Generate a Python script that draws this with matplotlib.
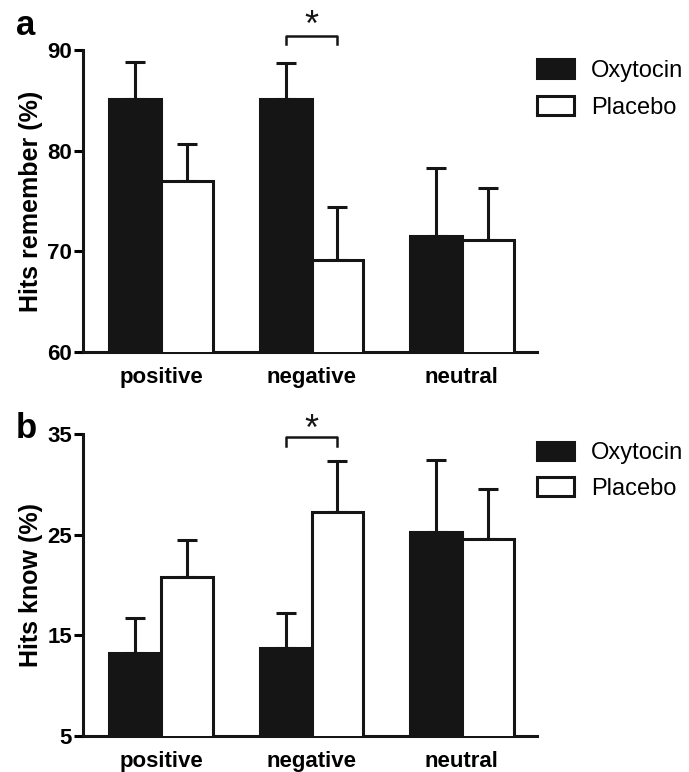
import numpy as np
import matplotlib
matplotlib.use("Agg")
import matplotlib.pyplot as plt

plt.rcParams['font.family'] = ['Liberation Sans', 'DejaVu Sans']

categories = ["positive", "negative", "neutral"]
series_names = ["Oxytocin", "Placebo"]

# Panel a: Hits remember (%)
remember_oxy = [85.1, 85.1, 71.5]
remember_oxy_err = [3.7, 3.6, 6.8]
remember_pla = [77.0, 69.1, 71.1]
remember_pla_err = [3.7, 5.3, 5.2]

# Panel b: Hits know (%)
know_oxy = [13.2, 13.7, 25.3]
know_oxy_err = [3.5, 3.5, 7.1]
know_pla = [20.8, 27.3, 24.6]
know_pla_err = [3.7, 5.0, 4.9]

panels = [
    dict(label="a", ylabel="Hits remember (%)", oxy=remember_oxy, oerr=remember_oxy_err,
         pla=remember_pla, perr=remember_pla_err, ylim=(60, 90), yticks=[60, 70, 80, 90],
         sig_group=1, bracket=(91.4, 90.6), star_y=92.3, leg_y=0.97, leg_sp=0.62),
    dict(label="b", ylabel="Hits know (%)", oxy=know_oxy, oerr=know_oxy_err,
         pla=know_pla, perr=know_pla_err, ylim=(5, 35), yticks=[5, 15, 25, 35],
         sig_group=1, bracket=(34.7, 33.8), star_y=35.4, leg_y=0.975, leg_sp=0.55),
]

W, H = 689, 772
fig = plt.figure(figsize=(W / 100, H / 100), dpi=100)

ax_rects = [
    (83 / W, 1 - 352 / H, (537 - 83) / W, (352 - 50) / H),
    (83 / W, 1 - 736 / H, (537 - 83) / W, (736 - 434) / H),
]
label_pos = [(16 / W, 1 - 35 / H), (16 / W, 1 - 438 / H)]

black = "#151515"
lw = 2.2
w = 0.345
x = np.arange(len(categories))

for p, rect, lpos in zip(panels, ax_rects, label_pos):
    ax = fig.add_axes(rect)
    b1 = ax.bar(x - w / 2, p["oxy"], w, color=black, edgecolor=black, linewidth=lw,
                zorder=3, label=series_names[0])
    b2 = ax.bar(x + w / 2, p["pla"], w, color="white", edgecolor=black, linewidth=lw,
                zorder=3, label=series_names[1])
    zeros = np.zeros(len(x))
    ax.errorbar(x - w / 2, p["oxy"], yerr=[zeros, p["oerr"]], fmt="none", ecolor=black,
                elinewidth=lw, capsize=7, capthick=lw, zorder=2)
    ax.errorbar(x + w / 2, p["pla"], yerr=[zeros, p["perr"]], fmt="none", ecolor=black,
                elinewidth=lw, capsize=7, capthick=lw, zorder=2)
    ax.set_ylim(*p["ylim"])
    ax.set_xlim(-0.52, 2.5)
    ax.set_yticks(p["yticks"])
    ax.set_xticks(x)
    ax.set_xticklabels(categories, fontsize=16, fontweight="bold")
    ax.tick_params(axis="x", length=0, pad=11)
    ax.tick_params(axis="y", length=6.5, width=lw, pad=1.5, labelsize=16)
    for t in ax.get_yticklabels():
        t.set_fontweight("bold")
    for s in ["top", "right"]:
        ax.spines[s].set_visible(False)
    for s in ["left", "bottom"]:
        ax.spines[s].set_linewidth(lw)
        ax.spines[s].set_color(black)
    ax.set_ylabel(p["ylabel"], fontsize=18, fontweight="bold", labelpad=3)

    g = p["sig_group"]
    x0, x1 = g - w / 2, g + w / 2
    top, leg = p["bracket"]
    ax.plot([x0, x0, x1, x1], [leg, top, top, leg], color=black, lw=1.8, clip_on=False)
    ax.text((x0 + x1) / 2, p["star_y"], "*", ha="center", va="center", fontsize=26,
            color=black, clip_on=False)

    ax.legend(handles=[b1, b2], loc="upper left", bbox_to_anchor=(1.0, p["leg_y"]),
              frameon=False, fontsize=17, handlelength=1.55, handleheight=0.85,
              handletextpad=0.75, labelspacing=p["leg_sp"], borderpad=0, borderaxespad=0)
    fig.text(lpos[0], lpos[1], p["label"], fontsize=25, fontweight="bold", ha="left",
             va="baseline")

fig.savefig("out.png", dpi=100)
